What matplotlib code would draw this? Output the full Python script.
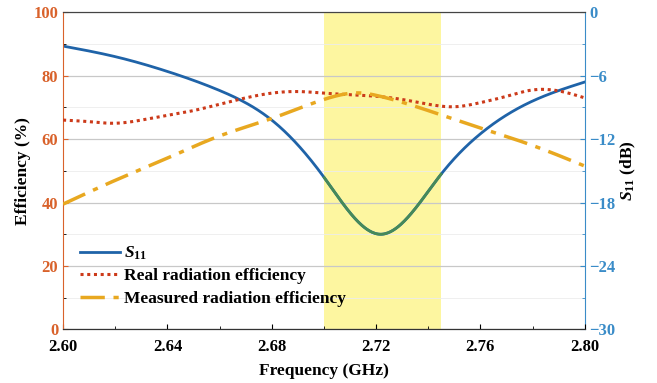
import numpy as np
import matplotlib.pyplot as plt
from matplotlib.ticker import MultipleLocator

plt.rcParams['font.family'] = 'Liberation Serif'
plt.rcParams['font.weight'] = 'bold'
plt.rcParams['mathtext.fontset'] = 'custom'
plt.rcParams['mathtext.it'] = 'Liberation Serif:italic:bold'
plt.rcParams['mathtext.rm'] = 'Liberation Serif:bold'
plt.rcParams['mathtext.bf'] = 'Liberation Serif:bold'

# S11 (dB)
s11_freq = [2.60, 2.62, 2.64, 2.66, 2.68, 2.70, 2.7215, 2.745, 2.76, 2.78, 2.80]
s11_db = [-3.2, -4.2, -5.6, -7.4, -10.2, -15.6, -21.0, -15.3, -11.5, -8.4, -6.6]

# real radiation efficiency (%)
real_freq = [2.60, 2.61, 2.62, 2.63, 2.64, 2.65, 2.66, 2.67, 2.68, 2.69, 2.70, 2.71, 2.72, 2.73, 2.74, 2.75, 2.76, 2.77, 2.78, 2.79, 2.80]
real_eff = [66.0, 65.5, 65.0, 66.0, 67.5, 69.0, 71.0, 73.0, 74.5, 75.0, 74.5, 74.0, 73.5, 72.5, 71.0, 70.2, 71.5, 73.5, 75.5, 75.2, 73.0]

# measured radiation efficiency (%)
meas_freq = [2.60, 2.62, 2.64, 2.66, 2.68, 2.70, 2.715, 2.72, 2.74, 2.76, 2.78, 2.80]
meas_eff = [39.5, 47.0, 54.0, 61.0, 66.5, 72.5, 74.5, 73.8, 69.0, 63.5, 58.0, 51.5]

band = (2.70, 2.745)

orange = '#d9622b'
blue = '#3a8cc8'


def spline(x, y, xn):
    # natural cubic spline through the read points
    x = np.asarray(x, float)
    y = np.asarray(y, float)
    n = len(x)
    h = np.diff(x)
    A = np.zeros((n, n))
    b = np.zeros(n)
    A[0, 0] = A[-1, -1] = 1
    for i in range(1, n - 1):
        A[i, i - 1] = h[i - 1]
        A[i, i] = 2 * (h[i - 1] + h[i])
        A[i, i + 1] = h[i]
        b[i] = 3 * ((y[i + 1] - y[i]) / h[i] - (y[i] - y[i - 1]) / h[i - 1])
    c = np.linalg.solve(A, b)
    idx = np.clip(np.searchsorted(x, xn) - 1, 0, n - 2)
    dx = xn - x[idx]
    bb = (y[idx + 1] - y[idx]) / h[idx] - h[idx] * (2 * c[idx] + c[idx + 1]) / 3
    d = (c[idx + 1] - c[idx]) / (3 * h[idx])
    return y[idx] + bb * dx + c[idx] * dx ** 2 + d * dx ** 3


fig, ax = plt.subplots(figsize=(6.57, 3.83), dpi=100)
ax2 = ax.twinx()

fx = np.linspace(2.60, 2.80, 600)
s11_s = spline(s11_freq, s11_db, fx)
real_s = spline(real_freq, real_eff, fx)
meas_s = spline(meas_freq, meas_eff, fx)

ax2.axvspan(band[0], band[1], color='#fdf6a0', lw=0, zorder=1)
l1, = ax2.plot(fx, s11_s, color='#1f63a8', lw=2, label='$S_{11}$', zorder=2)
inb = (fx >= band[0]) & (fx <= band[1])
ax2.plot(fx[inb], s11_s[inb], color='#468a58', lw=2, zorder=2.1)

l2, = ax.plot(fx, real_s, color='#cc3a1a', lw=2.2, ls=(0, (1, 1.2)), label='Real radiation efficiency', zorder=3)
l3, = ax.plot(fx, meas_s, color='#e8a820', lw=2.5, ls=(0, (7, 2.5, 1.5, 2.5)), label='Measured radiation efficiency', zorder=3)

ax.set_xlim(2.60, 2.80)
ax.set_ylim(0, 100)
ax2.set_ylim(-30, 0)
ax.set_zorder(ax2.get_zorder() + 1)
ax.patch.set_visible(False)

ax.xaxis.set_minor_locator(MultipleLocator(0.02))
ax.yaxis.set_major_locator(MultipleLocator(20))
ax.yaxis.set_minor_locator(MultipleLocator(10))
ax2.yaxis.set_major_locator(MultipleLocator(6))
ax2.yaxis.set_minor_locator(MultipleLocator(3))
ax.set_xticks(np.arange(2.60, 2.801, 0.04))
ax.set_xticklabels(['2.60', '2.64', '2.68', '2.72', '2.76', '2.80'])
ax2.xaxis.set_minor_locator(MultipleLocator(0.02))

ax2.grid(True, which='major', color='#c8c8c8', lw=0.9, zorder=1.5)
ax2.grid(True, which='minor', axis='both', color='#ececec', lw=0.6, zorder=1.5)

ax.tick_params(axis='both', which='both', direction='in', labelsize=12)
ax.tick_params(axis='x', pad=7)
ax.tick_params(axis='y', colors=orange, labelcolor=orange)
ax2.tick_params(axis='y', which='both', direction='in', colors=blue, labelcolor=blue, labelsize=12)
ax.spines['left'].set_color(orange)
ax2.spines['left'].set_visible(False)
ax2.spines['right'].set_color(blue)
ax.spines['right'].set_visible(False)
ax.spines['top'].set_color('#444444')
ax2.spines['top'].set_color('#444444')
ax.spines['bottom'].set_color('#333333')

ax.set_xlabel('Frequency (GHz)', fontsize=12.5, fontweight='bold', labelpad=6)
ax.set_ylabel('Efficiency (%)', fontsize=12.5, fontweight='bold', labelpad=2)
ax2.set_ylabel('$S_{11}$ (dB)', fontsize=12.5, fontweight='bold', labelpad=2)

ax.legend([l1, l2, l3], [l1.get_label(), l2.get_label(), l3.get_label()],
          loc='lower left', bbox_to_anchor=(0.02, 0.05), frameon=False,
          fontsize=12.5, handlelength=2.3, handletextpad=0.2, labelspacing=0.35,
          borderaxespad=0)

plt.subplots_adjust(left=0.096, right=0.89, top=0.968, bottom=0.14)
plt.savefig('out.png', dpi=100)
